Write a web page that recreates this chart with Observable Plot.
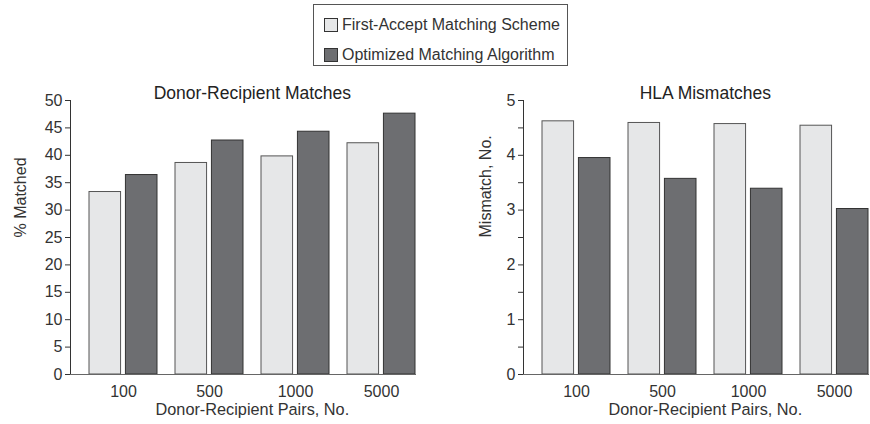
<!DOCTYPE html>
<html>
<head>
<meta charset="utf-8">
<script src="https://cdn.jsdelivr.net/npm/d3@7"></script>
<script src="https://cdn.jsdelivr.net/npm/@observablehq/plot@0.6"></script>
<style>
  html, body { margin: 0; padding: 0; background: #fff; }
  body { font-family: "Liberation Sans", Arial, Helvetica, sans-serif; color: #333; }
  #wrap { position: relative; width: 870px; height: 424px; overflow: hidden; }
  #legend { position: absolute; left: 313px; top: 4px; width: 253px; height: 60px; border: 1px solid #555; font-size: 16px; }
  .item { position: absolute; left: 10px; display: flex; align-items: center; white-space: nowrap; }
  .sw { width: 12px; height: 12px; border: 1px solid #333; margin-right: 4px; }
  #plots { position: absolute; left: 0; top: 70px; display: flex; }
</style>
</head>
<body>
<div id="wrap">
  <div id="legend"></div>
  <div id="plots"></div>
</div>
<script>
// ---- data ----
const groups = ["100", "500", "1000", "5000"];
const seriesNames = ["First-Accept Matching Scheme", "Optimized Matching Algorithm"];
const seriesColors = ["#e6e7e8", "#6d6e71"];
const matchedFirst = [33.3, 38.6, 39.8, 42.2];
const matchedOptimized = [36.4, 42.7, 44.3, 47.6];
const mismatchFirst = [4.62, 4.59, 4.57, 4.54];
const mismatchOptimized = [3.95, 3.57, 3.39, 3.02];
const leftTicks = [0, 5, 10, 15, 20, 25, 30, 35, 40, 45, 50];
const rightTicks = [0, 0.5, 1, 1.5, 2, 2.5, 3, 3.5, 4, 4.5, 5];
const rightTickLabels = [0, 1, 2, 3, 4, 5];

// ---- legend ----
const legend = document.getElementById("legend");
seriesNames.forEach((name, i) => {
  const it = document.createElement("div");
  it.className = "item";
  it.style.top = (i === 0 ? 11 : 41) + "px";
  const sw = document.createElement("div");
  sw.className = "sw";
  sw.style.background = seriesColors[i];
  const t = document.createElement("span");
  t.textContent = name;
  it.appendChild(sw); it.appendChild(t);
  legend.appendChild(it);
});

const FONT = '"Liberation Sans", Arial, Helvetica, sans-serif';

function panel({title, yLabel, first, optimized, domain, ticks, tickFormat, marginLeft, marginRight, width, yLabelDx}) {
  const data = groups.map((g, i) => ({group: g, first: first[i], optimized: optimized[i]}));
  const height = 354, marginTop = 30, marginBottom = 50;
  const r0 = marginLeft + 17.7, r1 = width - marginRight;
  const bandW = (r1 - r0) / (groups.length - 0.21) * (1 - 0.21);
  const barW = 32;
  const cx = (r0 + r1) / 2 - (marginLeft + r1) / 2;
  return Plot.plot({
    width, height, marginLeft, marginRight, marginTop, marginBottom,
    style: {fontFamily: FONT, fontSize: "16px", color: "#333", background: "transparent", overflow: "visible"},
    x: {type: "band", domain: groups, range: [r0, r1], paddingInner: 0.21, paddingOuter: 0, tickSize: 0, tickPadding: 11, label: null},
    y: {domain, ticks, tickFormat, tickSize: 5, tickPadding: 3, label: null, line: true},
    marks: [
      Plot.barY(data, {x: "group", y: "first", fill: seriesColors[0], stroke: "#555", strokeWidth: 1, insetRight: bandW - barW}),
      Plot.barY(data, {x: "group", y: "optimized", fill: seriesColors[1], stroke: "#333", strokeWidth: 1, insetLeft: bandW - barW}),
      Plot.ruleY([0], {stroke: "#666"}),
      Plot.text([title], {frameAnchor: "top", dx: cx, dy: -14, fontSize: 17.5, fill: "#222"}),
      Plot.text([yLabel], {frameAnchor: "left", rotate: -90, dx: yLabelDx, fontSize: 16, fill: "#333"}),
      Plot.text(["Donor-Recipient Pairs, No."], {frameAnchor: "bottom", dx: cx, dy: 40, fontSize: 16.3, fill: "#333"})
    ]
  });
}

const plots = document.getElementById("plots");
plots.appendChild(panel({
  title: "Donor-Recipient Matches", yLabel: "% Matched",
  first: matchedFirst, optimized: matchedOptimized,
  domain: [0, 50], ticks: leftTicks, tickFormat: d => String(d),
  marginLeft: 70, marginRight: 19, width: 435, yLabelDx: -50
}));
plots.appendChild(panel({
  title: "HLA Mismatches", yLabel: "Mismatch, No.",
  first: mismatchFirst, optimized: mismatchOptimized,
  domain: [0, 5], ticks: rightTicks, tickFormat: d => rightTickLabels.includes(d) ? String(d) : "",
  marginLeft: 88, marginRight: 1, width: 435, yLabelDx: -38
}));
</script>
</body>
</html>
